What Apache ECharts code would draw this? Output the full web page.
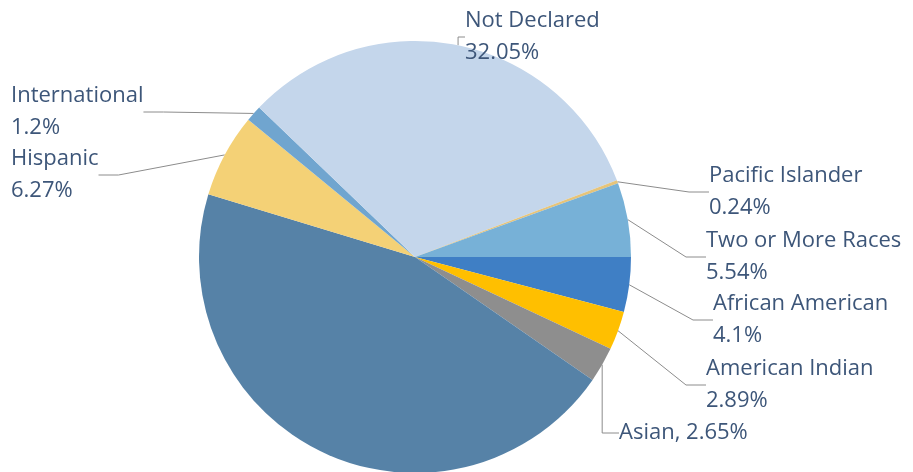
<!DOCTYPE html>
<html>
<head>
<meta charset="utf-8">
<script src="https://cdn.jsdelivr.net/npm/echarts@6/dist/echarts.min.js"></script>
<style>
  html, body { margin: 0; padding: 0; background: #fff; }
  #chart { width: 913px; height: 472px; }
</style>
</head>
<body>
<div id="chart"></div>
<script>
// slices, clockwise from 3 o'clock
const groups = [
  'African American', 'American Indian', 'Asian', 'White', 'Hispanic',
  'International', 'Not Declared', 'Pacific Islander', 'Two or More Races',
];
const shares = [4.1, 2.89, 2.65, 45.06, 6.27, 1.2, 32.05, 0.24, 5.54];
const sliceColors = [
  '#3f7fc5', '#ffbf00', '#8e8e8e', '#5682a7', '#f4d176',
  '#70a5cf', '#c4d6eb', '#e6c47a', '#77b1d7',
];
// where each label text block sits (left, top)
const labelSpots = [
  [713, 288], [706, 353], [619, 417], null, [11, 143],
  [11, 80], [465, 5], [709, 160], [706, 225],
];

const chart = echarts.init(document.getElementById('chart'));

chart.setOption({
  animation: false,
  series: [{
    type: 'pie',
    center: [415, 257],
    radius: 216,
    startAngle: 0,
    clockwise: true,
    avoidLabelOverlap: false,
    data: groups.map((name, i) => ({
      name,
      value: shares[i],
      itemStyle: { color: sliceColors[i] },
      label: { show: labelSpots[i] !== null },
      labelLine: { show: labelSpots[i] !== null },
    })),
    label: {
      color: '#3d5679',
      fontFamily: 'Open Sans',
      fontSize: 22,
      lineHeight: 32,
      formatter: (p) => (p.name === 'Asian' ? `${p.name}, ${p.value}%` : `${p.name}\n${p.value}%`),
    },
    labelLine: {
      length: 20,
      length2: 20,
      lineStyle: { color: '#8c8c8c', width: 1 },
    },
    labelLayout: (params) => {
      const spot = labelSpots[params.dataIndex];
      if (!spot) return {};
      return { x: spot[0], y: spot[1], align: 'left', verticalAlign: 'top' };
    },
  }],
});
</script>
</body>
</html>
